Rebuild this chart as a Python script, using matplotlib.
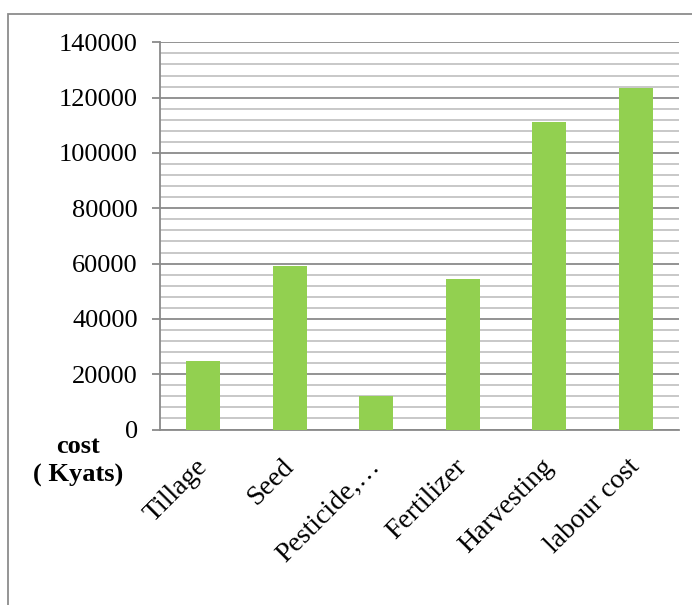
import numpy as np
import matplotlib.pyplot as plt
from matplotlib.patches import Rectangle
from matplotlib.ticker import MultipleLocator

categories = ['Tillage', 'Seed', 'Pesticide,\u2026', 'Fertilizer', 'Harvesting', 'labour cost']
cost = [24700, 59300, 12300, 54300, 111200, 123600]

plt.rcParams['font.family'] = ['Liberation Serif', 'DejaVu Serif']

fig = plt.figure(figsize=(6.92, 6.05), dpi=100)
ax = fig.add_axes([0.2312, 0.290, 0.75, 0.640])

x = np.arange(len(categories))
ax.bar(x, cost, width=0.39, color='#92D050', zorder=3)

ax.set_xlim(-0.5, len(categories) - 0.5)
ax.set_ylim(0, 140000)
ax.yaxis.set_major_locator(MultipleLocator(20000))
ax.yaxis.set_minor_locator(MultipleLocator(4000))
ax.grid(which='major', axis='y', color='#8a8a8a', linewidth=1.3, zorder=1)
ax.grid(which='minor', axis='y', color='#c4c4c4', linewidth=1.3, zorder=1)

for s in ['top', 'right']:
    ax.spines[s].set_visible(False)
ax.spines['left'].set_color('#8a8a8a')
ax.spines['left'].set_linewidth(1.3)
ax.spines['bottom'].set_color('#8a8a8a')
ax.spines['bottom'].set_linewidth(1.3)

ax.tick_params(axis='y', which='major', length=6, width=1.3, color='#8a8a8a',
               labelsize=19, pad=10)
ax.tick_params(axis='y', which='minor', length=0)
ax.tick_params(axis='x', length=0, pad=24)
ax.set_xticks(x)
ax.set_xticklabels(categories, fontsize=20, rotation=45, ha='right', va='center',
                   rotation_mode='anchor')

fig.text(78 / 692, 1 - 461 / 605, 'cost\n( Kyats)', fontsize=19, fontweight='bold',
         ha='center', va='center', multialignment='center', linespacing=1.35)

# chart area border
fig.patches.append(Rectangle((8 / 692, -0.1), 1.2, 1.1 - 14 / 605, transform=fig.transFigure,
                             fill=False, edgecolor='#8c8c8c', linewidth=1.3))

fig.savefig('out.png', dpi=100)
